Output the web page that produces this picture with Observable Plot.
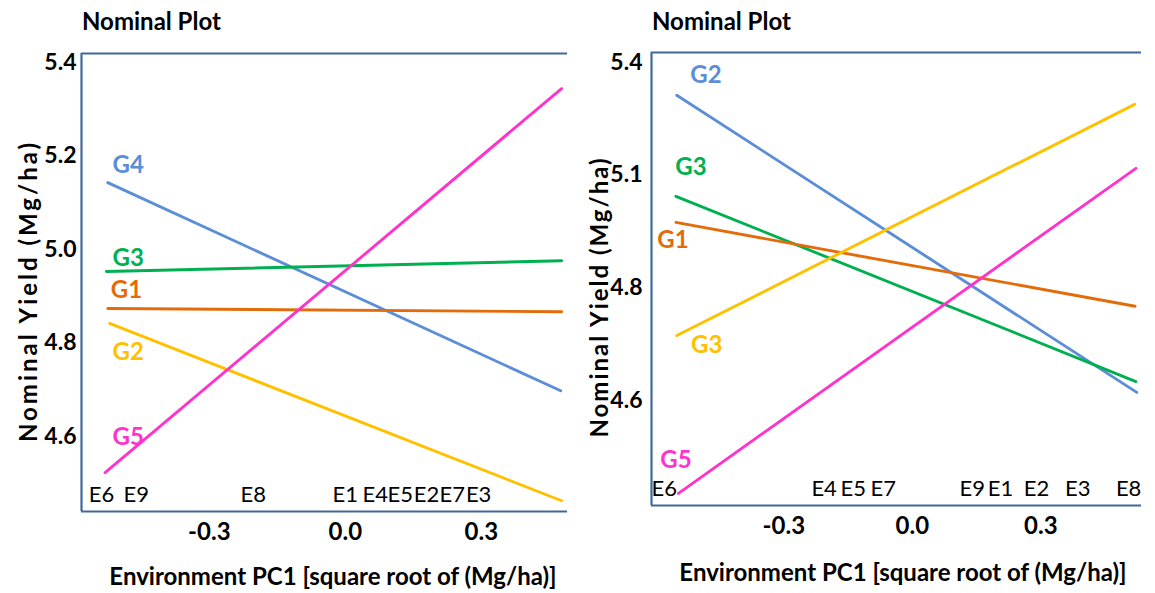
<!DOCTYPE html>
<html>
<head>
<meta charset="utf-8">
<script src="https://cdn.jsdelivr.net/npm/d3@7"></script>
<script src="https://cdn.jsdelivr.net/npm/@observablehq/plot@0.6"></script>
<style>
  html, body { margin: 0; padding: 0; background: #fff; }
  body { width: 1155px; height: 593px; position: relative; overflow: hidden; font-family: Lato, "Open Sans", sans-serif; }
  .panel { position: absolute; top: 0; }
  .title { position: absolute; font-weight: bold; font-size: 24px; line-height: 1; color: #000; white-space: nowrap; }
  .xlab { position: absolute; font-weight: bold; font-size: 24px; line-height: 1; color: #000; white-space: nowrap; transform: translateX(-50%); }
  .ylab { position: absolute; font-weight: bold; font-size: 24px; line-height: 1; color: #000; white-space: nowrap; transform: translate(-50%, -50%) rotate(-90deg); }
</style>
</head>
<body>
<script>
// ---------- Left panel data ----------
const leftGenotypes = ["G4", "G3", "G1", "G2", "G5"];
const leftColors = ["#5B8ED6", "#00B050", "#E36C0A", "#FFC000", "#FF33CC"];
const leftStartX = [-0.524, -0.527, -0.524, -0.520, -0.530];
const leftEndX = [0.475, 0.477, 0.477, 0.477, 0.477];
const leftStartY = [5.143, 4.953, 4.874, 4.842, 4.523];
const leftEndY = [4.698, 4.976, 4.867, 4.463, 5.344];
const leftLabelX = [-0.479, -0.479, -0.483, -0.479, -0.479];
const leftLabelY = [5.180, 4.981, 4.912, 4.780, 4.598];
const leftEnvNames = ["E6", "E9", "E8", "E1", "E4", "E5", "E2", "E7", "E3"];
const leftEnvPC1 = [-0.538, -0.461, -0.203, 0.000, 0.066, 0.121, 0.179, 0.236, 0.294];
const leftYTicks = [4.6, 4.8, 5.0, 5.2, 5.4];
const leftYTickLabels = ["4.6", "4.8", "5.0", "5.2", "5.4"];
const xTicks = [-0.3, 0.0, 0.3];
const xTickLabels = ["-0.3", "0.0", "0.3"];

// ---------- Right panel data ----------
const rightGenotypes = ["G2", "G3", "G1", "G3", "G5"];
const rightColors = ["#5B8ED6", "#00B050", "#E36C0A", "#FFC000", "#FF33CC"];
const rightStartX = [-0.550, -0.552, -0.552, -0.550, -0.546];
const rightEndX = [0.524, 0.522, 0.520, 0.519, 0.522];
const rightStartY = [5.277, 5.053, 4.995, 4.744, 4.394];
const rightEndY = [4.618, 4.642, 4.809, 5.257, 5.115];
const rightLabelX = [-0.482, -0.517, -0.559, -0.480, -0.552];
const rightLabelY = [5.321, 5.117, 4.955, 4.722, 4.467];
const rightEnvNames = ["E6", "E4", "E5", "E7", "E9", "E1", "E2", "E3", "E8"];
const rightEnvPC1 = [-0.579, -0.206, -0.138, -0.068, 0.140, 0.206, 0.290, 0.386, 0.505];
const rightYTicks = [4.6, 4.85, 5.1, 5.35];
const rightYTickLabels = ["4.6", "4.8", "5.1", "5.4"];

const FRAME = "#41689C";
const FONT = "Lato, 'Open Sans', sans-serif";

function makePanel(o) {
  const lines = [];
  o.genotypes.forEach((g, i) => {
    lines.push({id: i, g, x: o.startX[i], y: o.startY[i], c: o.colors[i]});
    lines.push({id: i, g, x: o.endX[i], y: o.endY[i], c: o.colors[i]});
  });
  const labels = o.genotypes.map((g, i) => ({g, x: o.labelX[i], y: o.labelY[i], c: o.colors[i]}));
  const envs = o.envNames.map((e, i) => ({e, x: o.envPC1[i]}));
  const yLab = new Map(o.yTicks.map((t, i) => [t, o.yTickLabels[i]]));
  const xLab = new Map(xTicks.map((t, i) => [t, xTickLabels[i]]));
  const svg = Plot.plot({
    width: o.width, height: 593,
    marginLeft: o.ml, marginRight: o.mr, marginTop: o.mt, marginBottom: o.mb,
    style: {fontFamily: FONT, background: "transparent", overflow: "visible"},
    x: {domain: o.xDomain},
    y: {domain: o.yDomain},
    marks: [
      Plot.axisY({ticks: o.yTicks, tickSize: 0, tickPadding: o.yPad, tickFormat: d => yLab.get(d), label: null, fontSize: 23, fontWeight: "bold", fill: "#000"}),
      Plot.axisX({ticks: xTicks, tickSize: 0, tickPadding: 11, tickFormat: d => xLab.get(d), label: null, fontSize: 24, fontWeight: "bold", fill: "#000"}),
      Plot.line(lines, {x: "x", y: "y", z: "id", stroke: d => d.c, strokeWidth: 2.9}),
      Plot.text(labels, {x: "x", y: "y", text: "g", fill: d => d.c, fontSize: 24, fontWeight: "bold"}),
      Plot.text(envs, {x: "x", text: "e", frameAnchor: "bottom", dy: o.envDy, fontSize: 22, fontWeight: "normal", fill: "#000", ariaLabel: "env"}),
      Plot.ruleY([o.yDomain[1]], {stroke: FRAME, strokeWidth: 2.2}),
      Plot.ruleY([o.yDomain[0]], {stroke: FRAME, strokeWidth: 2.2}),
      Plot.ruleX([o.xDomain[0]], {stroke: FRAME, strokeWidth: 2.2})
    ]
  });
  d3.select(svg).selectAll("g[aria-label='env'] text").style("letter-spacing", "-1px");
  return svg;
}

const left = makePanel({
  genotypes: leftGenotypes, colors: leftColors,
  startX: leftStartX, endX: leftEndX, startY: leftStartY, endY: leftEndY,
  labelX: leftLabelX, labelY: leftLabelY,
  envNames: leftEnvNames, envPC1: leftEnvPC1,
  yTicks: leftYTicks, yTickLabels: leftYTickLabels,
  width: 575, ml: 81, mr: 8, mt: 53, mb: 82, yPad: 5,
  xDomain: [-0.582, 0.490], yDomain: [4.440, 5.419], envDy: -10
});
const right = makePanel({
  genotypes: rightGenotypes, colors: rightColors,
  startX: rightStartX, endX: rightEndX, startY: rightStartY, endY: rightEndY,
  labelX: rightLabelX, labelY: rightLabelY,
  envNames: rightEnvNames, envPC1: rightEnvPC1,
  yTicks: rightYTicks, yTickLabels: rightYTickLabels,
  width: 580, ml: 76, mr: 14, mt: 52, mb: 88, yPad: 9,
  xDomain: [-0.609, 0.535], yDomain: [4.367, 5.372], envDy: -10
});

function place(el, x) {
  const d = document.createElement("div");
  d.className = "panel";
  d.style.left = x + "px";
  d.appendChild(el);
  document.body.appendChild(d);
}
place(left, 0);
place(right, 575);

function addText(cls, text, x, y, extra) {
  const d = document.createElement("div");
  d.className = cls;
  d.textContent = text;
  d.style.left = x + "px";
  d.style.top = y + "px";
  if (extra) Object.assign(d.style, extra);
  document.body.appendChild(d);
}
addText("title", "Nominal Plot", 82, 9);
addText("title", "Nominal Plot", 652, 9);
addText("xlab", "Environment PC1 [square root of (Mg/ha)]", 333, 564);
addText("xlab", "Environment PC1 [square root of (Mg/ha)]", 903, 560);
addText("ylab", "Nominal Yield (Mg/ha)", 28, 291, {letterSpacing: "3px"});
addText("ylab", "Nominal Yield (Mg/ha)", 599, 297, {letterSpacing: "2px"});
</script>
</body>
</html>
